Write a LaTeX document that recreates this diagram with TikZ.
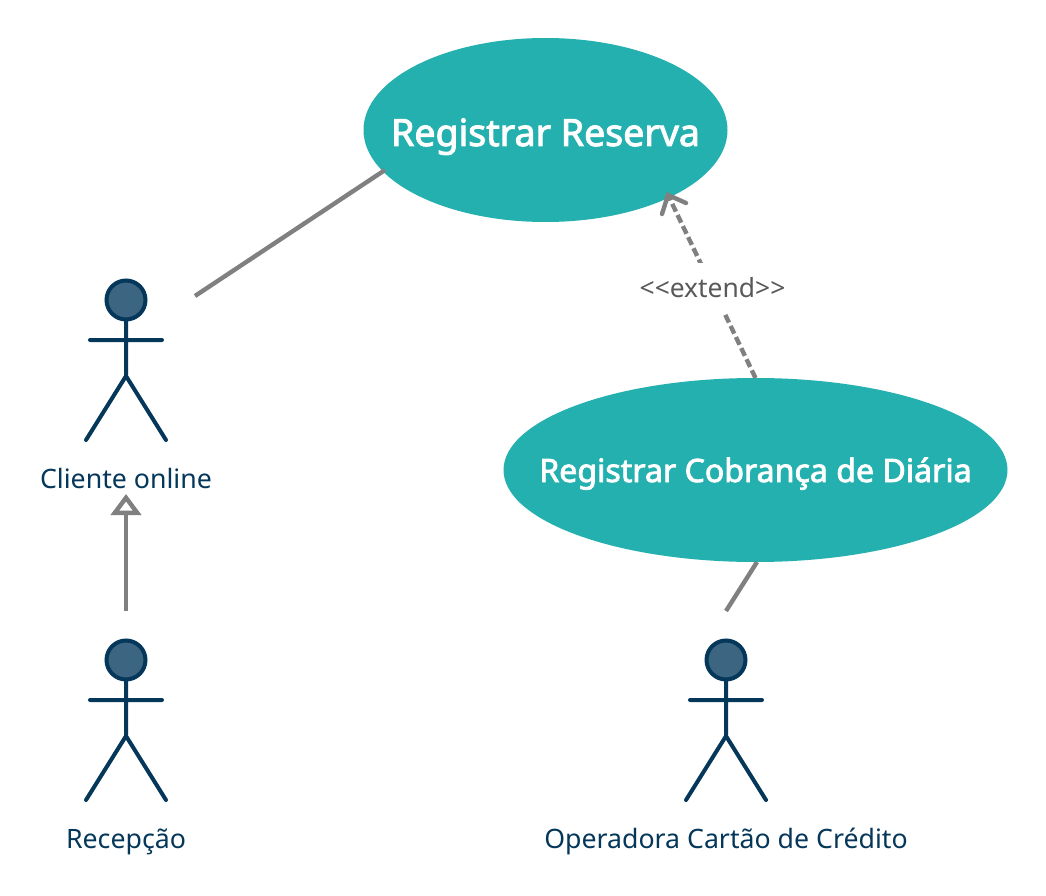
\documentclass[tikz,border=0pt]{standalone}
\usepackage{fontspec}
\setmainfont{Noto Sans}
\newfontfamily\ucfont[FakeBold=2.5]{Noto Sans}
\usetikzlibrary{shapes.geometric,arrows.meta}
\definecolor{teal1}{HTML}{25B0B0}
\definecolor{navy1}{HTML}{04375A}
\definecolor{head1}{HTML}{3B6580}
\definecolor{gray1}{HTML}{808080}
\definecolor{gray2}{HTML}{595959}
\newcommand{\uctext}[2]{\raisebox{#1}[0pt][0pt]{\makebox[0pt]{#2}}}
\tikzset{
  usecase/.style={ellipse,fill=teal1,inner sep=0pt,outer sep=0pt,text=white},
  limb/.style={draw=navy1,line width=4pt,line cap=round,line join=round},
  headc/.style={circle,draw=navy1,fill=head1,line width=4pt,minimum size=39pt,inner sep=0pt},
  actorlabel/.style={text=navy1,font=\fontsize{26.7}{30}\selectfont,inner sep=0pt,anchor=base},
  conn/.style={draw=gray1,line width=4.4pt},
  dashconn/.style={draw=gray1,line width=4.4pt,dash pattern=on 8.5pt off 3.8pt},
  actor/.pic={
    \node[headc] (-head) at (0,-0) {};
    \draw[limb] (0,21) -- (0,76) (-36,40) -- (36,40) (-40,140) -- (0,76) -- (40,140);
  }
}
\begin{document}
\begin{tikzpicture}[x=1pt,y=-1pt]
\useasboundingbox (0,0) rectangle (1046,896);
\node[usecase,minimum width=364pt,minimum height=184pt,font=\ucfont\fontsize{37.5}{40}\selectfont] (reserva) at (545.5,130) {\uctext{-16pt}{Registrar Reserva}};
\node[usecase,minimum width=504pt,minimum height=184pt,font=\ucfont\fontsize{32.1}{36}\selectfont] (cobranca) at (755.5,470) {\uctext{-12pt}{Registrar Cobrança de Diária}};
\pic (a1) at (126,300) {actor};
\pic (a2) at (126,660) {actor};
\pic (a3) at (726,660) {actor};
\node[actorlabel] (cliente) at (126,488) {Cliente online};
\node[actorlabel] (recepcao) at (126,848) {Recepção};
\node[actorlabel] (operadora) at (726,848) {Operadora Cartão de Crédito};
\coordinate (c1) at (195,296);
\coordinate (c2) at (126,611);
\coordinate (c3) at (726,611);
\coordinate (c4) at (126,494);
\coordinate (c5) at (668,195);
\coordinate (b1) at (662,214);
\coordinate (b2) at (686,203);
\coordinate (r0) at (385,170);
\draw[conn] (r0) -- (c1);
\draw[conn,-{Triangle[open,length=21pt,width=30pt,line width=4.4pt]}] (c2) -- (c4);
\draw[conn] (cobranca.south) ++(1.5,0) -- (c3);
\draw[dashconn] (cobranca.north) -- (c5);
\draw[conn,line cap=round,line join=miter] (b1) -- (c5) -- (b2);
\node[fill=white,text=gray2,font=\fontsize{26.4}{30}\selectfont,inner xsep=3pt,inner ysep=5pt,minimum height=50pt] (ext) at (712.5,288) {<{}<extend>{}>};
\end{tikzpicture}
\end{document}
